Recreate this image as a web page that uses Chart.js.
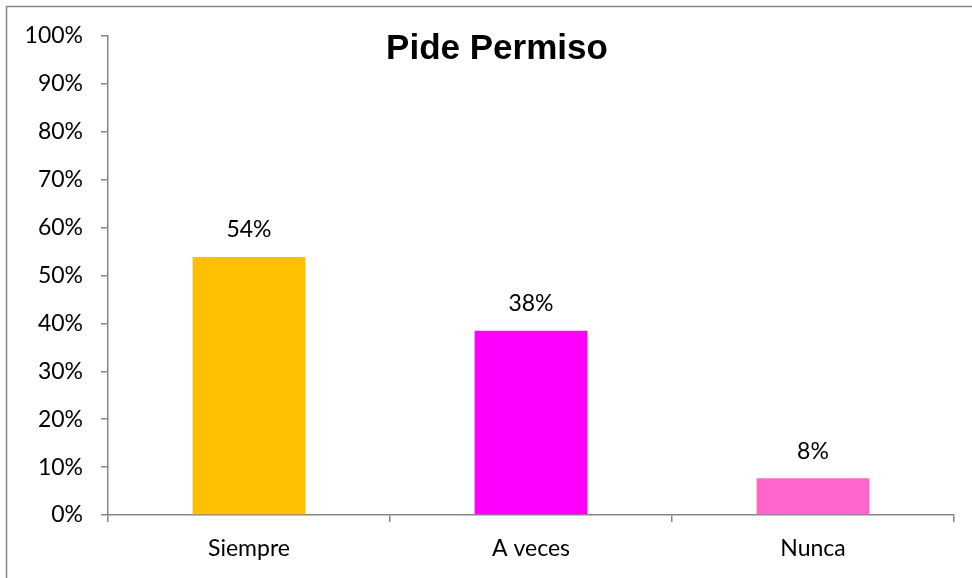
<!DOCTYPE html>
<html>
<head>
<meta charset="utf-8">
<script src="https://cdn.jsdelivr.net/npm/chart.js@4/dist/chart.umd.min.js"></script>
<style>
  html, body { margin: 0; padding: 0; background: #fff; }
  #wrap { width: 972px; height: 578px; position: relative; }
</style>
</head>
<body>
<div id="wrap"><canvas id="chart" width="972" height="578"></canvas></div>
<script>
// Chart data
const categories = ['Siempre', 'A veces', 'Nunca'];
const values = [53.85, 38.46, 7.69];
const barColors = ['#FFC000', '#FF00FF', '#FF66CC'];
const titleText = 'Pide Permiso';

const axisColor = '#868686';
const labelFont = { family: 'Lato, "Open Sans", sans-serif', size: 23 };

// Outer frame + title drawn on canvas
const framePlugin = {
    id: 'frame',
    beforeDraw(chart) {
        const ctx = chart.ctx;
        ctx.save();
        ctx.fillStyle = '#fff';
        ctx.fillRect(0, 0, chart.width, chart.height);
        ctx.strokeStyle = axisColor;
        ctx.lineWidth = 1.5;
        ctx.strokeRect(6.5, 6.5, 1000, 1000);
        ctx.restore();
    },
    afterDraw(chart) {
        const ctx = chart.ctx;
        ctx.save();
        ctx.fillStyle = '#000';
        ctx.font = 'bold 35px "Liberation Sans", Arial, sans-serif';
        ctx.textAlign = 'center';
        ctx.textBaseline = 'middle';
        ctx.fillText(titleText, 497, 49);
        ctx.restore();
    }
};

// Value labels above the bars
const valueLabels = {
    id: 'valueLabels',
    afterDatasetsDraw(chart) {
        const ctx = chart.ctx;
        const meta = chart.getDatasetMeta(0);
        ctx.save();
        ctx.fillStyle = '#000';
        ctx.font = `${labelFont.size}px ${labelFont.family}`;
        ctx.textAlign = 'center';
        ctx.textBaseline = 'middle';
        meta.data.forEach((bar, i) => {
            ctx.fillText(Math.round(values[i]) + '%', bar.x, bar.y - 27);
        });
        ctx.restore();
    }
};

new Chart(document.getElementById('chart'), {
    type: 'bar',
    data: {
        labels: categories,
        datasets: [{
            data: values,
            backgroundColor: barColors,
            borderWidth: 0,
            categoryPercentage: 1,
            barPercentage: 0.4
        }]
    },
    options: {
        responsive: false,
        animation: false,
        layout: { padding: { top: 36, right: 18, left: 0, bottom: 0 } },
        plugins: {
            legend: { display: false },
            tooltip: { enabled: false },
            title: { display: false }
        },
        scales: {
            y: {
                min: 0,
                max: 100,
                ticks: {
                    stepSize: 10,
                    color: '#000',
                    font: labelFont,
                    padding: 18,
                    callback: v => v + '%'
                },
                grid: {
                    drawOnChartArea: false,
                    color: axisColor,
                    tickLength: 7,
                    lineWidth: 1.5
                },
                border: { color: axisColor, width: 1.5 },
                afterFit(scale) { scale.width = 108; }
            },
            x: {
                ticks: { color: '#000', font: labelFont, padding: 13 },
                grid: {
                    offset: true,
                    drawOnChartArea: false,
                    color: axisColor,
                    tickLength: 7,
                    lineWidth: 1.5
                },
                border: { color: axisColor, width: 1.5 },
                afterFit(scale) { scale.height = 63; }
            }
        }
    },
    plugins: [framePlugin, valueLabels]
});
</script>
</body>
</html>
